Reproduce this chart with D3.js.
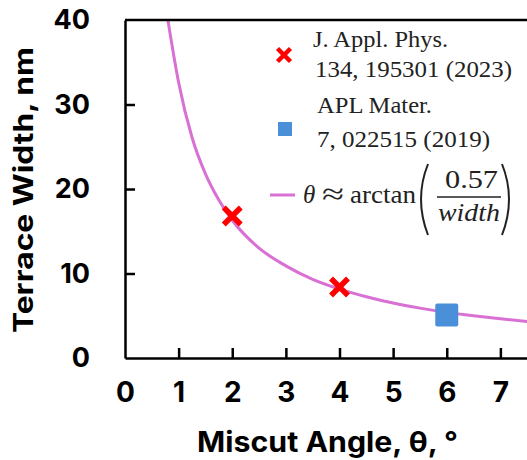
<!DOCTYPE html>
<html>
<head>
<meta charset="utf-8">
<script src="https://cdn.jsdelivr.net/npm/d3@7"></script>
<style>
  body { margin: 0; background: #fff; }
  svg { display: block; }
</style>
</head>
<body>
<div id="chart"></div>
<script>
// values
const jap_angle = [2, 4];
const jap_width = [16.8, 8.4];
const apl_angle = [6];
const apl_width = [5.1];

// fitted curve, points
const fit_angle = [0.8, 1.0, 1.25, 1.5, 1.75, 2.0, 2.5, 3.0, 3.5, 4.0, 4.5, 5.0, 5.5, 6.0, 6.5, 7.0, 7.5, 8.0];
const fit_width = [40.0, 32.6, 26.1, 21.8, 18.7, 16.3, 13.0, 10.9, 9.3, 8.15, 7.25, 6.5, 5.9, 5.4, 5.0, 4.65, 4.33, 4.05];

const xTicks = [0, 1, 2, 3, 4, 5, 6, 7];
const yTicks = [0, 10, 20, 30, 40];

const legendLabels = [
  ["J. Appl. Phys.", "134, 195301 (2023)"],
  ["APL Mater.", "7, 022515 (2019)"]
];

const margin = {top: 20, right: -27, bottom: 102, left: 125};
const W = 527, H = 460;
const width = W - margin.left - margin.right;
const height = H - margin.top - margin.bottom;

const svg = d3.select("#chart").append("svg")
  .attr("width", W)
  .attr("height", H);

const g = svg.append("g")
  .attr("transform", "translate(" + margin.left + "," + margin.top + ")");

const x = d3.scaleLinear().domain([0, 8]).range([0, width]);
const y = d3.scaleLinear().domain([0, 40]).range([height, 0]);

const boldFont = "Inter, 'Open Sans', Arial, sans-serif";
const serif = "'Times New Roman', 'Liberation Serif', serif";

// clip for the plot area
g.append("clipPath").attr("id", "clip")
  .append("rect").attr("width", width).attr("height", height);

// curve
const line = d3.line()
  .x((d, i) => x(fit_angle[i]))
  .y(d => y(d))
  .curve(d3.curveMonotoneX);

g.append("path")
  .datum(fit_width)
  .attr("clip-path", "url(#clip)")
  .attr("fill", "none")
  .attr("stroke", "#d970d4")
  .attr("stroke-width", 3)
  .attr("d", line);

// x axis (ticks inward, labels pushed down)
const xAxis = g.append("g")
  .attr("transform", "translate(0," + height + ")")
  .call(d3.axisBottom(x).tickValues(xTicks).tickSizeInner(-10).tickSizeOuter(0).tickPadding(24));
xAxis.select(".domain").attr("stroke-width", 2.5);
xAxis.selectAll(".tick line").attr("stroke-width", 2.5);
xAxis.selectAll(".tick").filter(d => d === 0).select("line").remove();
xAxis.selectAll("text")
  .attr("font-family", boldFont).attr("font-weight", "bold").attr("font-size", 28)
  .attr("fill", "#000");

// y axis
const yAxis = g.append("g")
  .call(d3.axisLeft(y).tickValues(yTicks).tickSizeInner(-10).tickSizeOuter(0).tickPadding(35));
yAxis.select(".domain").attr("stroke-width", 2.5);
yAxis.selectAll(".tick line").attr("stroke-width", 2.5);
yAxis.selectAll(".tick").filter(d => d === 0 || d === 40).select("line").remove();
yAxis.selectAll("text")
  .attr("font-family", boldFont).attr("font-weight", "bold").attr("font-size", 27)
  .attr("fill", "#000");

// top frame line
g.append("line")
  .attr("x1", 0).attr("x2", width)
  .attr("y1", 0).attr("y2", 0)
  .attr("stroke", "#000").attr("stroke-width", 2.5);

// markers
function crossPath(s) {
  return "M" + (-s) + "," + (-s) + "L" + s + "," + s + "M" + (-s) + "," + s + "L" + s + "," + (-s);
}

g.selectAll(".jap")
  .data(jap_angle)
  .enter().append("path")
  .attr("class", "jap")
  .attr("transform", (d, i) => "translate(" + x(d) + "," + y(jap_width[i]) + ")")
  .attr("d", crossPath(8.5))
  .attr("stroke", "#ff0000")
  .attr("stroke-width", 5.5)
  .attr("fill", "none");

g.selectAll(".apl")
  .data(apl_angle)
  .enter().append("rect")
  .attr("class", "apl")
  .attr("x", d => x(d) - 11.5)
  .attr("y", (d, i) => y(apl_width[i]) - 11.5)
  .attr("width", 23).attr("height", 23)
  .attr("rx", 2)
  .attr("fill", "#4a90d9");

// axis titles
svg.append("text")
  .attr("x", 197).attr("y", 452)
  .attr("textLength", 261).attr("lengthAdjust", "spacingAndGlyphs")
  .attr("font-family", boldFont).attr("font-weight", "bold").attr("font-size", 28)
  .text("Miscut Angle, θ, °");

svg.append("text")
  .attr("transform", "translate(33,333) rotate(-90)")
  .attr("textLength", 286).attr("lengthAdjust", "spacingAndGlyphs")
  .attr("font-family", boldFont).attr("font-weight", "bold").attr("font-size", 27)
  .text("Terrace Width, nm");

// legend
const leg = svg.append("g");

leg.append("path")
  .attr("transform", "translate(284,55)")
  .attr("d", crossPath(6.5))
  .attr("stroke", "#ff0000").attr("stroke-width", 4.5).attr("fill", "none");

leg.append("rect")
  .attr("x", 278).attr("y", 122).attr("width", 14).attr("height", 14)
  .attr("fill", "#4a90d9");

const legY = [[47, 77], [113, 147]];
const legX = [[313, 315], [317, 317]];
const legLen = [[135, 197], [115, 173]];
legendLabels.forEach((lines, i) => {
  lines.forEach((t, j) => {
    leg.append("text")
      .attr("x", legX[i][j]).attr("y", legY[i][j])
      .attr("textLength", legLen[i][j]).attr("lengthAdjust", "spacingAndGlyphs")
      .attr("font-family", serif).attr("font-size", 23)
      .attr("fill", "#222")
      .text(t);
  });
});

leg.append("line")
  .attr("x1", 270).attr("x2", 295).attr("y1", 195).attr("y2", 195)
  .attr("stroke", "#d970d4").attr("stroke-width", 3);

const eq = leg.append("g").attr("font-family", serif).attr("fill", "#222");
eq.append("text").attr("x", 303).attr("y", 203).attr("font-size", 25)
  .attr("font-style", "italic").text("θ");
eq.append("text").attr("x", 322).attr("y", 204)
  .attr("textLength", 22).attr("lengthAdjust", "spacingAndGlyphs")
  .attr("font-size", 30).text("≈");
eq.append("text").attr("x", 350).attr("y", 203)
  .attr("textLength", 66).attr("lengthAdjust", "spacingAndGlyphs")
  .attr("font-size", 25).text("arctan");
// tall parentheses
eq.append("path")
  .attr("d", "M428,164 Q414,199 428,235")
  .attr("fill", "none").attr("stroke", "#222").attr("stroke-width", 2);
eq.append("path")
  .attr("d", "M502,164 Q516,199 502,235")
  .attr("fill", "none").attr("stroke", "#222").attr("stroke-width", 2);
eq.append("text").attr("x", 445).attr("y", 188)
  .attr("textLength", 53).attr("lengthAdjust", "spacingAndGlyphs")
  .attr("font-size", 25).text("0.57");
eq.append("line").attr("x1", 437).attr("x2", 501).attr("y1", 197).attr("y2", 197)
  .attr("stroke", "#222").attr("stroke-width", 1.3);
eq.append("text").attr("x", 438).attr("y", 221)
  .attr("textLength", 62).attr("lengthAdjust", "spacingAndGlyphs")
  .attr("font-size", 25).attr("font-style", "italic").text("width");
</script>
</body>
</html>
